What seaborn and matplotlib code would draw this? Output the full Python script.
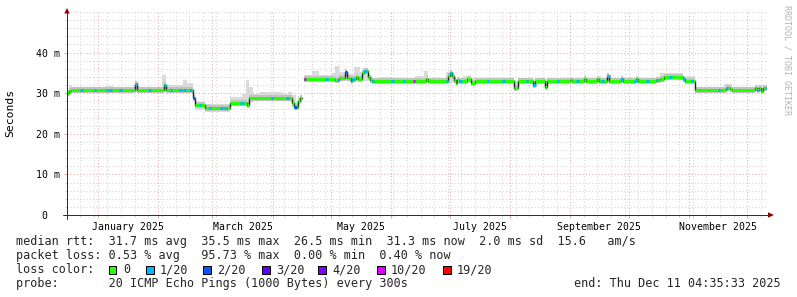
import numpy as np
import pandas as pd
import matplotlib
matplotlib.use("Agg")
import matplotlib.pyplot as plt
import matplotlib.dates as mdates
import matplotlib.transforms as mtransforms
from matplotlib.ticker import FixedLocator, MultipleLocator
from matplotlib.patches import Rectangle, Polygon
from matplotlib.lines import Line2D
import seaborn as sns

# ---------------------------------------------------------------- data
end_time = "2025-12-11 04:35:33"
span_days = 360

# median rtt (ms) as a step series: value holds from each date to the next
median_dates = [
    "2024-12-16", "2024-12-17", "2024-12-18", "2025-01-20", "2025-01-21",
    "2025-02-04", "2025-02-05", "2025-02-19", "2025-02-20", "2025-02-25",
    "2025-03-10", "2025-03-19", "2025-03-20", "2025-04-11", "2025-04-12",
    "2025-04-14", "2025-04-15", "2025-04-16", "2025-04-17", "2025-05-03",
    "2025-05-05", "2025-05-08", "2025-05-09", "2025-05-11", "2025-05-12",
    "2025-05-14", "2025-05-15", "2025-05-17", "2025-05-18", "2025-05-20",
    "2025-05-21", "2025-05-22", "2025-06-19", "2025-06-20", "2025-06-30",
    "2025-07-01", "2025-07-02", "2025-07-03", "2025-07-04", "2025-07-05",
    "2025-07-06", "2025-07-10", "2025-07-12", "2025-07-14", "2025-08-03",
    "2025-08-05", "2025-08-13", "2025-08-14", "2025-08-19", "2025-08-20",
    "2025-09-01", "2025-09-02", "2025-09-08", "2025-09-09", "2025-09-15",
    "2025-09-16", "2025-09-20", "2025-09-21", "2025-09-27", "2025-09-28",
    "2025-10-05", "2025-10-06", "2025-10-15", "2025-10-17", "2025-10-19",
    "2025-10-29", "2025-10-30", "2025-11-04", "2025-11-20", "2025-11-22",
    "2025-11-23", "2025-12-05", "2025-12-06", "2025-12-07", "2025-12-08",
    "2025-12-09",
]
median_ms = [
    30.0, 30.5, 30.8, 32.3, 30.8,
    31.9, 30.8, 28.8, 27.0, 26.4,
    27.7, 27.1, 28.7, 27.5, 26.6,
    28.0, 28.7, np.nan, 33.6, 33.2,
    33.8, 35.2, 33.8, 33.0, 33.4,
    34.0, 33.4, 35.0, 35.5, 34.0,
    33.3, 32.9, 33.6, 32.9, 34.3,
    35.0, 34.2, 33.2, 32.6, 33.2,
    32.9, 33.4, 32.6, 32.9, 31.3,
    32.9, 32.1, 32.9, 31.6, 32.9,
    33.3, 32.9, 33.6, 32.9, 33.4,
    32.9, 34.2, 32.9, 33.6, 32.9,
    33.4, 32.9, 33.3, 33.6, 33.9,
    33.4, 33.0, 30.8, 31.4, 31.0,
    30.8, 31.3, 30.9, 31.4, 30.6,
    31.3,
]

# smoke (spread of the individual pings), step series
smoke_dates = [
    "2024-12-16", "2024-12-17", "2024-12-19", "2025-01-05", "2025-01-09",
    "2025-01-19", "2025-01-20", "2025-01-22", "2025-02-03", "2025-02-05",
    "2025-02-07", "2025-02-14", "2025-02-16", "2025-02-19", "2025-02-20",
    "2025-02-25", "2025-03-10", "2025-03-16", "2025-03-18", "2025-03-20",
    "2025-03-22", "2025-03-25", "2025-04-06", "2025-04-09", "2025-04-11",
    "2025-04-13", "2025-04-14", "2025-04-16", "2025-04-17", "2025-04-21",
    "2025-04-25", "2025-05-01", "2025-05-03", "2025-05-05", "2025-05-10",
    "2025-05-13", "2025-05-16", "2025-05-17", "2025-05-20", "2025-05-22",
    "2025-05-27", "2025-06-01", "2025-06-13", "2025-06-18", "2025-06-20",
    "2025-06-29", "2025-07-03", "2025-07-08", "2025-07-11", "2025-07-30",
    "2025-08-03", "2025-08-05", "2025-08-20", "2025-09-01", "2025-09-08",
    "2025-09-10", "2025-09-15", "2025-09-17", "2025-09-20", "2025-09-22",
    "2025-09-27", "2025-09-29", "2025-10-05", "2025-10-07", "2025-10-15",
    "2025-10-17", "2025-10-29", "2025-11-04", "2025-11-19", "2025-11-23",
    "2025-12-05",
]
smoke_lo_ms = [
    29.8, 30.2, 30.4, 30.4, 30.4,
    30.4, 30.4, 30.4, 30.4, 30.4,
    30.4, 30.4, 30.4, 28.0, 25.8,
    25.4, 27.2, 27.2, 27.0, 27.5,
    28.2, 28.2, 28.2, 28.2, 26.5,
    26.0, 27.6, np.nan, 33.3, 33.3,
    33.3, 33.0, 32.9, 33.0, 32.7,
    33.0, 33.0, 33.0, 33.0, 32.6,
    32.6, 32.6, 32.6, 32.6, 32.6,
    32.6, 32.4, 32.6, 32.6, 32.5,
    31.0, 32.6, 32.6, 32.6, 32.6,
    32.6, 32.6, 32.6, 32.6, 32.6,
    32.6, 32.6, 32.6, 32.6, 33.0,
    33.3, 32.8, 30.5, 30.5, 30.5,
    30.5,
]
smoke_hi_ms = [
    30.6, 31.9, 31.6, 31.8, 31.5,
    32.0, 32.8, 31.5, 34.4, 32.0,
    31.9, 33.2, 32.5, 29.2, 27.8,
    27.4, 29.0, 29.8, 33.2, 31.5,
    29.8, 30.3, 29.8, 30.2, 29.5,
    28.0, 29.0, np.nan, 34.4, 35.4,
    34.6, 35.0, 36.7, 35.3, 34.8,
    36.5, 35.3, 36.2, 34.5, 33.6,
    34.0, 33.6, 34.2, 35.5, 33.6,
    35.3, 33.6, 34.3, 33.7, 33.8,
    33.0, 33.6, 33.6, 33.8, 34.0,
    33.6, 34.2, 33.6, 34.6, 33.6,
    34.0, 33.6, 34.1, 33.6, 34.0,
    35.0, 34.2, 31.6, 32.3, 31.6,
    32.0,
]

# pings lost (of 20) where the median line is not green
loss_dates = [
    "2024-12-23", "2024-12-30", "2025-01-05", "2025-01-07", "2025-01-12",
    "2025-01-20", "2025-01-27", "2025-02-04", "2025-02-07", "2025-02-12",
    "2025-02-14", "2025-02-17", "2025-02-19", "2025-02-22", "2025-02-27",
    "2025-03-05", "2025-03-07", "2025-03-15", "2025-03-16", "2025-03-31",
    "2025-04-08", "2025-04-12", "2025-04-17", "2025-04-28", "2025-05-04",
    "2025-05-08", "2025-05-12", "2025-05-18", "2025-05-22", "2025-06-01",
    "2025-06-07", "2025-06-12", "2025-06-29", "2025-07-01", "2025-07-06",
    "2025-07-20", "2025-07-28", "2025-08-09", "2025-08-13", "2025-08-25",
    "2025-09-04", "2025-09-17", "2025-09-20", "2025-09-27", "2025-10-04",
    "2025-10-10", "2025-10-15", "2025-10-22", "2025-10-29", "2025-11-02",
    "2025-11-16", "2025-11-20", "2025-12-06", "2025-12-10",
]
loss_level = [
    "1/20", "1/20", "1/20", "1/20", "1/20",
    "1/20", "1/20", "1/20", "1/20", "1/20",
    "1/20", "1/20", "2/20", "1/20", "1/20",
    "1/20", "1/20", "1/20", "1/20", "1/20",
    "1/20", "2/20", "10/20", "1/20", "1/20",
    "2/20", "1/20", "1/20", "1/20", "1/20",
    "1/20", "10/20", "1/20", "1/20", "1/20",
    "1/20", "1/20", "1/20", "1/20", "1/20",
    "1/20", "1/20", "1/20", "1/20", "1/20",
    "1/20", "1/20", "1/20", "1/20", "1/20",
    "1/20", "1/20", "1/20", "1/20",
]

loss_classes = ["0", "1/20", "2/20", "3/20", "4/20", "10/20", "19/20"]
loss_colors = ["#26ff00", "#00b8ff", "#0059ff", "#5e00ff", "#7e00ff", "#dd00ff", "#ff0000"]

label_months = ["2025-01", "2025-03", "2025-05", "2025-07", "2025-09", "2025-11"]
month_labels = ["January 2025", "March 2025", "May 2025", "July 2025",
                "September 2025", "November 2025"]
y_ticks = [0, 10, 20, 30, 40]
y_tick_labels = ["0  ", "10 m", "20 m", "30 m", "40 m"]

legend_rtt = "median rtt:  31.7 ms avg  35.5 ms max  26.5 ms min  31.3 ms now  2.0 ms sd  15.6   am/s"
legend_loss = "packet loss: 0.53 % avg   95.73 % max  0.00 % min  0.40 % now"
legend_color = "loss color:"
legend_probe = "probe:       20 ICMP Echo Pings (1000 Bytes) every 300s"
legend_end = "end: Thu Dec 11 04:35:33 2025"
y_title = "Seconds"
watermark = "RRDTOOL / TOBI OETIKER"

# ---------------------------------------------------------------- style
sns.set_theme(style="white")
plt.rcParams["font.family"] = ["DejaVu Sans Mono", "DejaVu Sans"]

W, H = 797, 297
PX = 0.72  # points per pixel at dpi 100
L, R, T, B = 67, 767, 12, 215
MGRID = "#e2a8a8"
GRID = "#d2d2d2"
AXIS = "#303030"
ARROW = "#8b0000"


def fx(x):
    return x / W


def fy(y):
    return 1 - y / H


fig = plt.figure(figsize=(W / 100, H / 100), dpi=100)
fig.patch.set_facecolor("white")
ax = fig.add_axes([fx(L), fy(B), (R - L) / W, (B - T) / H])
ax.set_facecolor("white")
for s in ax.spines.values():
    s.set_visible(False)

t_end = pd.Timestamp(end_time)
t_start = t_end - pd.Timedelta(days=span_days)

# ---------------------------------------------------------------- smoke
st = pd.to_datetime(smoke_dates)
slo = np.array(smoke_lo_ms, float)
shi = np.array(smoke_hi_ms, float)
bounds = list(st[1:]) + [t_end]
run_t, run_lo, run_hi = [], [], []
for i in range(len(st)):
    if np.isnan(slo[i]):
        continue
    run_t.append(st[i]); run_lo.append(slo[i]); run_hi.append(shi[i])
    nxt_nan = (i + 1 < len(st) and np.isnan(slo[i + 1])) or i + 1 == len(st)
    if nxt_nan:
        run_t.append(bounds[i]); run_lo.append(slo[i]); run_hi.append(shi[i])
        ax.fill_between(run_t, run_lo, run_hi, step="post", color="#dadada",
                        lw=0, zorder=2)
        run_t, run_lo, run_hi = [], [], []

# ---------------------------------------------------------------- median
mt = pd.to_datetime(median_dates)
mv = np.array(median_ms, float)
m_next = list(mt[1:]) + [t_end]

seg_rows = []
for i, (a, b, v) in enumerate(zip(mt, m_next, mv)):
    if np.isnan(v):
        continue
    seg_rows += [(a, v, i), (b, v, i)]
seg = pd.DataFrame(seg_rows, columns=["time", "rtt", "seg"])

# connected thin median line, split at the data gap
line_rows = []
run = 0
for i, (a, b, v) in enumerate(zip(mt, m_next, mv)):
    if np.isnan(v):
        run += 1
        continue
    line_rows.append((a, v, run))
    if i + 1 == len(mv) or np.isnan(mv[i + 1]):
        line_rows.append((b, v, run))
line = pd.DataFrame(line_rows, columns=["time", "rtt", "run"])

# halo of the densest smoke just around the median
sns.lineplot(data=seg, x="time", y="rtt", units="seg", estimator=None,
             color="#c2c2c2", lw=6 * PX, ax=ax, legend=False, zorder=3,
             solid_capstyle="butt")
sns.lineplot(data=line, x="time", y="rtt", units="run", estimator=None,
             color="#202020", lw=1.4 * PX, drawstyle="steps-post", ax=ax,
             legend=False, zorder=4)
sns.lineplot(data=seg, x="time", y="rtt", units="seg", estimator=None,
             color=loss_colors[0], lw=3 * PX, ax=ax, legend=False, zorder=5,
             solid_capstyle="butt")

# loss-coloured pieces of the median
ld = pd.to_datetime(loss_dates)
loss_rows = []
for k, (d, lev) in enumerate(zip(ld, loss_level)):
    idx = np.searchsorted(mt.values, d.to_datetime64(), side="right") - 1
    v = mv[idx]
    loss_rows += [(d, v, k, lev), (d + pd.Timedelta(hours=30), v, k, lev)]
loss_df = pd.DataFrame(loss_rows, columns=["time", "rtt", "ev", "level"])
sns.lineplot(data=loss_df, x="time", y="rtt", hue="level", units="ev",
             estimator=None, palette=dict(zip(loss_classes, loss_colors)),
             lw=3 * PX, ax=ax, legend=False, zorder=6, solid_capstyle="butt")

# ---------------------------------------------------------------- axes
ax.set_xlim(t_start, t_end)
ax.set_ylim(0, 50)
ax.set_xlabel("")
ax.set_ylabel("")
ax.xaxis.set_major_locator(mdates.MonthLocator())
ax.xaxis.set_minor_locator(mdates.WeekdayLocator(byweekday=mdates.MO))
ax.yaxis.set_major_locator(FixedLocator(y_ticks))
ax.yaxis.set_minor_locator(MultipleLocator(2))
ax.set_yticks(y_ticks, labels=y_tick_labels)
ax.set_axisbelow(True)
ax.grid(which="minor", color=GRID, lw=1 * PX, linestyle=(0, (1, 2.2)))
ax.grid(which="major", color=MGRID, lw=1 * PX, linestyle=(0, (1, 2.2)))
ax.tick_params(axis="x", which="major", labelbottom=False, direction="out",
               length=3 * PX, width=1 * PX, color=MGRID, bottom=True)
ax.tick_params(axis="x", which="minor", direction="out", length=2 * PX,
               width=1 * PX, color=GRID, bottom=True)
ax.tick_params(axis="y", which="major", direction="out", length=3 * PX,
               width=1 * PX, color=MGRID, left=True, pad=4 * PX,
               labelsize=7.1, labelcolor="black")
ax.tick_params(axis="y", which="minor", direction="out", length=2 * PX,
               width=1 * PX, color=GRID, left=True)

lab_tf = mtransforms.blended_transform_factory(ax.transData, fig.transFigure)
for m, lab in zip(label_months, month_labels):
    s = pd.Timestamp(m + "-01")
    mid = s + (s + pd.offsets.MonthBegin(1) - s) / 2
    ax.text(mid, fy(229.5), lab, transform=lab_tf, ha="center", va="baseline",
            fontsize=7.1, color="black")

# axis lines and arrows
fig.add_artist(Line2D([fx(63), fx(770)], [fy(215), fy(215)], color=AXIS, lw=1 * PX))
fig.add_artist(Line2D([fx(67), fx(67)], [fy(219), fy(10)], color=AXIS, lw=1 * PX))
fig.add_artist(Polygon([(fx(64.3), fy(13.5)), (fx(69.7), fy(13.5)), (fx(67), fy(8))],
                       closed=True, color=ARROW, lw=0))
fig.add_artist(Polygon([(fx(768), fy(212.3)), (fx(768), fy(217.7)), (fx(774), fy(215))],
                       closed=True, color=ARROW, lw=0))

# titles / watermark
fig.text(fx(10), fy(113), y_title, rotation=90, ha="center", va="center",
         fontsize=8.2, color="black")
fig.text(fx(787), fy(5), watermark, rotation=270, ha="center", va="top",
         fontsize=6, color="#b4b4b4")

# ---------------------------------------------------------------- legend
LF = 8.45
fig.text(fx(16), fy(245.5), legend_rtt, ha="left", va="baseline", fontsize=LF)
fig.text(fx(16), fy(259.3), legend_loss, ha="left", va="baseline", fontsize=LF)
fig.text(fx(16), fy(273.1), legend_color, ha="left", va="baseline", fontsize=LF)
fig.text(fx(16), fy(286.9), legend_probe, ha="left", va="baseline", fontsize=LF)
fig.text(fx(781), fy(286.9), legend_end, ha="right", va="baseline", fontsize=LF)

box_x = [109, 146, 203, 262, 318, 377, 443]
for bx, lab, col in zip(box_x, loss_classes, loss_colors):
    fig.add_artist(Rectangle((fx(bx), fy(273.5)), 7.5 / W, 7.5 / H, facecolor=col,
                             edgecolor="black", lw=1 * PX))
    fig.text(fx(bx + 14), fy(273.1), lab, ha="left", va="baseline", fontsize=LF)

fig.savefig("out.png", dpi=100, facecolor="white")
